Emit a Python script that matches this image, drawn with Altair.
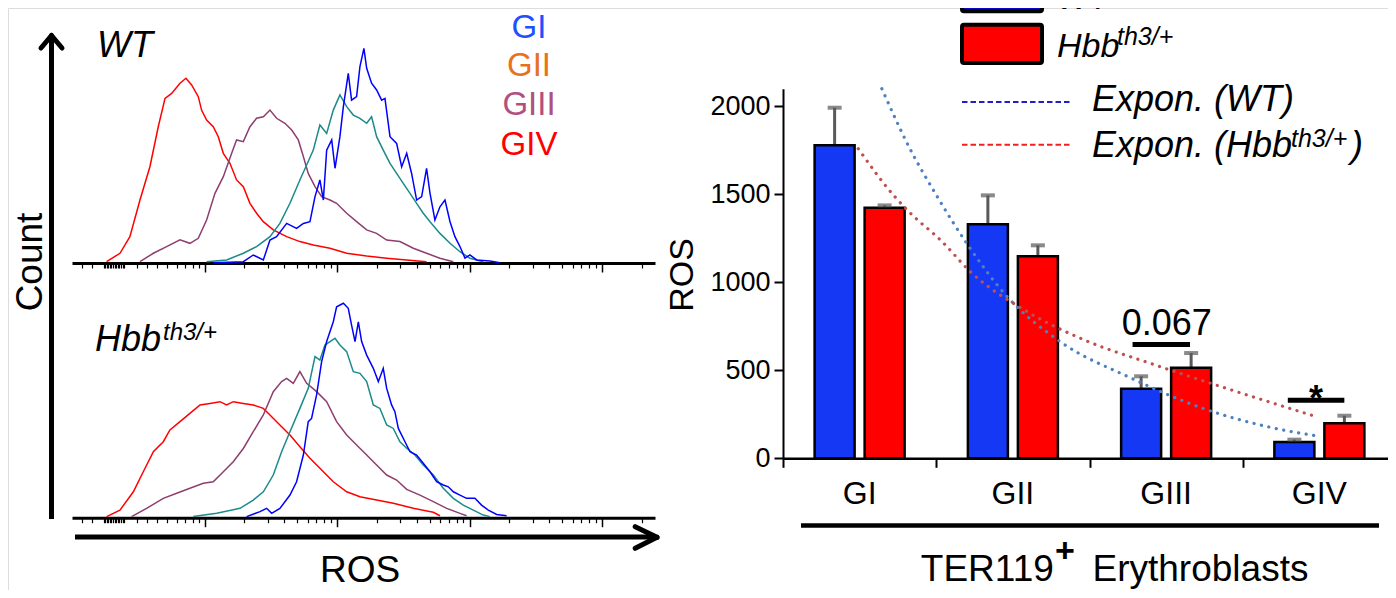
import math
import altair as alt
import pandas as pd

# ---------------- data: flow histograms (x = log10 ROS, y = % of panel height) -------------
WT_GIV_X = [1.261, 1.362, 1.437, 1.513, 1.588, 1.651, 1.702, 1.752, 1.815, 1.860, 1.903, 1.953, 1.978,
            2.016, 2.066, 2.104, 2.142, 2.192, 2.242, 2.293, 2.343, 2.393, 2.444, 2.519, 2.620, 2.720,
            2.821, 2.947, 3.073, 3.224, 3.375, 3.526, 3.676]
WT_GIV_Y = [0.6, 4.5, 12.2, 29.1, 44.5, 63.0, 76.1, 78.4, 83.1, 85.4, 82.3, 76.9, 70.7, 66.1, 63.0, 58.4,
            50.7, 46.1, 38.4, 35.3, 27.6, 23.0, 19.1, 15.3, 12.2, 9.9, 8.3, 6.8, 4.5, 3.2, 2.2, 1.4, 0.6]
WT_GIII_X = [1.513, 1.614, 1.714, 1.815, 1.890, 1.953, 2.016, 2.079, 2.142, 2.205, 2.242, 2.293, 2.343,
             2.393, 2.444, 2.494, 2.544, 2.607, 2.658, 2.708, 2.746, 2.783, 2.834, 2.884, 2.947, 2.997,
             3.073, 3.148, 3.224, 3.299, 3.375, 3.475, 3.576, 3.676, 3.777, 3.878]
WT_GIII_Y = [0.6, 4.5, 7.6, 10.7, 9.1, 11.4, 19.9, 32.2, 39.9, 50.7, 56.9, 56.1, 63.0, 66.9, 67.6, 70.7,
             66.9, 64.6, 61.5, 56.9, 49.2, 41.4, 35.3, 30.7, 29.1, 27.6, 23.0, 19.1, 15.3, 13.7, 10.6,
             9.9, 6.8, 4.5, 2.2, 0.6]
WT_GII_X = [2.016, 2.167, 2.293, 2.393, 2.494, 2.569, 2.645, 2.720, 2.771, 2.821, 2.871, 2.922, 2.972,
            3.022, 3.073, 3.123, 3.173, 3.224, 3.261, 3.299, 3.349, 3.400, 3.450, 3.500, 3.551, 3.601,
            3.651, 3.702, 3.777, 3.853, 3.928, 4.003, 4.104]
WT_GII_Y = [0.6, 1.4, 4.5, 7.6, 12.2, 18.3, 27.6, 38.4, 45.3, 52.2, 63.8, 59.9, 70.7, 77.7, 72.3, 68.4,
            66.9, 64.6, 67.6, 58.4, 52.2, 46.1, 41.4, 36.8, 32.2, 27.6, 23.0, 19.1, 13.7, 9.1, 5.2, 2.2, 0.6]
WT_GI_X = [2.066, 2.293, 2.368, 2.444, 2.494, 2.544, 2.620, 2.695, 2.746, 2.796, 2.834, 2.871, 2.897,
           2.922, 2.960, 2.985, 3.022, 3.048, 3.085, 3.110, 3.148, 3.173, 3.203, 3.224, 3.261, 3.299,
           3.337, 3.362, 3.400, 3.450, 3.488, 3.526, 3.563, 3.601, 3.639, 3.676, 3.702, 3.739, 3.777,
           3.815, 3.853, 3.890, 3.928, 3.966, 4.003, 4.054, 4.154, 4.230]
WT_GI_Y = [0.15, 0.6, 3.7, 1.4, 10.6, 12.2, 18.3, 16.0, 18.3, 19.1, 30.7, 38.4, 29.1, 52.2, 56.9, 43.8,
           58.4, 72.3, 87.7, 75.3, 76.9, 90.8, 99.2, 90.0, 83.1, 80.0, 75.3, 76.1, 58.4, 55.3, 44.5, 50.7,
           41.4, 29.1, 30.7, 43.8, 32.2, 19.9, 26.0, 29.1, 19.1, 12.2, 7.6, 2.2, 3.7, 1.4, 0.9, 0.15]

HBB_GIV_X = [1.261, 1.362, 1.463, 1.538, 1.614, 1.689, 1.739, 1.815, 1.890, 1.966, 2.041, 2.117, 2.167,
             2.217, 2.293, 2.368, 2.444, 2.494, 2.569, 2.645, 2.720, 2.796, 2.871, 2.972, 3.073, 3.173,
             3.299, 3.425, 3.576, 3.727, 3.777]
HBB_GIV_Y = [0.5, 3.5, 11.9, 21.1, 30.3, 34.9, 40.3, 44.1, 47.9, 51.8, 52.5, 53.3, 51.8, 53.3, 52.5, 51.8,
             50.2, 47.2, 42.6, 38.0, 32.6, 27.3, 22.7, 16.5, 11.9, 9.6, 8.1, 6.6, 4.3, 2.5, 0.9]
HBB_GIII_X = [1.450, 1.563, 1.689, 1.790, 1.890, 1.991, 2.066, 2.142, 2.217, 2.293, 2.368, 2.444, 2.519,
              2.582, 2.620, 2.670, 2.720, 2.771, 2.846, 2.922, 2.997, 3.073, 3.148, 3.224, 3.299, 3.375,
              3.450, 3.526, 3.626, 3.727, 3.828, 3.928, 3.978]
HBB_GIII_Y = [0.5, 4.3, 8.9, 11.2, 13.5, 15.8, 16.5, 21.1, 25.7, 31.8, 39.5, 47.2, 57.9, 62.5, 64.0, 61.7,
              67.1, 61.7, 57.9, 53.3, 44.1, 38.0, 33.4, 28.8, 24.2, 19.6, 17.3, 13.0, 10.4, 7.4, 4.3, 2.0, 0.9]
HBB_GII_X = [1.915, 2.092, 2.268, 2.368, 2.444, 2.519, 2.582, 2.645, 2.720, 2.783, 2.834, 2.871, 2.909,
             2.947, 2.985, 3.022, 3.073, 3.123, 3.173, 3.224, 3.274, 3.324, 3.375, 3.425, 3.475, 3.526,
             3.588, 3.651, 3.727, 3.802, 3.878, 3.953, 4.029, 4.104, 4.154]
HBB_GII_Y = [0.5, 2.0, 4.3, 8.1, 11.9, 19.6, 30.3, 39.5, 50.2, 59.4, 74.0, 72.4, 79.3, 80.9, 82.4, 79.3,
             76.3, 67.1, 66.3, 62.5, 51.8, 50.2, 42.6, 41.0, 34.9, 31.9, 28.8, 24.2, 19.6, 13.5, 8.9, 5.8,
             3.5, 1.2, 0.5]
HBB_GI_X = [2.318, 2.419, 2.469, 2.507, 2.569, 2.645, 2.695, 2.746, 2.783, 2.808, 2.846, 2.884, 2.922,
            2.972, 2.997, 3.048, 3.085, 3.110, 3.136, 3.161, 3.186, 3.224, 3.274, 3.312, 3.349, 3.375,
            3.412, 3.437, 3.463, 3.513, 3.551, 3.601, 3.651, 3.702, 3.752, 3.802, 3.840, 3.878, 3.928,
            3.978, 4.041, 4.091, 4.142, 4.205, 4.280]
HBB_GI_Y = [0.5, 2.8, 4.3, 2.0, 4.3, 10.4, 16.5, 28.8, 44.1, 45.6, 56.4, 71.7, 80.9, 90.0, 96.9, 98.5,
            96.2, 88.5, 80.9, 90.0, 80.9, 74.7, 68.6, 62.5, 68.6, 59.4, 51.8, 48.7, 41.0, 34.9, 30.3, 28.8,
            25.0, 21.1, 16.5, 15.0, 14.2, 11.9, 10.4, 8.9, 8.9, 5.8, 3.5, 1.5, 0.9]

# ---------------- data: bar chart ----------------
CATS = ["GI", "GII", "GIII", "GIV"]
GROUPS = ["WT", "Hbb"]
WT_ROS = [1778, 1330, 395, 93]
WT_UPPER = [1992, 1494, 466, 106]
HBB_ROS = [1424, 1148, 515, 199]
HBB_UPPER = [1437, 1210, 598, 242]

# exponential trend lines (x in category units, GI centre = 0.5)
TREND_WT_X = [0.645, 0.822, 1.007, 1.206, 1.452, 1.805, 2.266, 2.726, 3.186, 3.478]
TREND_WT_Y = [2100, 1770, 1486, 1212, 929, 665, 458, 288, 175, 128]
TREND_HBB_X = [0.491, 0.730, 0.823, 1.038, 1.222, 1.590, 1.959, 2.419, 2.880, 3.463]
TREND_HBB_Y = [1759, 1486, 1400, 1231, 1061, 835, 675, 533, 401, 241]

SIG_X1 = [2.281, 3.294]
SIG_X2 = [2.656, 3.663]
SIG_Y = [647, 330]
SIG_TEXT = ["0.067", "*"]
SIG_TEXT_X = [2.504, 3.478]
SIG_TEXT_Y = [703, 270]

# ---------------- layout (pixels, chart coordinates) ----------------
FONT = "Liberation Sans"
W, H = 1380, 582
HX = [64, 647]
TOP_Y = [255, 38.7]
BOT_Y = [509.7, 292]
BAR_X = [775, 1388]
BAR_Y = [450.3, 80.7]

MAJOR = [2, 3, 4, 5]
LEFT_TICKS = [1.073, 1.148] + [round(1.238 + 0.012 * i, 3) for i in range(14)] + \
             [1.492, 1.567, 1.642, 1.717, 1.792, 1.851, 1.912, 1.956]
MINOR = LEFT_TICKS + [round(k + math.log10(m), 3) for k in (2, 3, 4) for m in range(2, 10)] + [5.301]
Y_TICKS = [12.5 * i for i in range(1, 9)]

one = pd.DataFrame({"a": [0]})


def rule(x1, y1, x2, y2, width=5, color="black", dash=None, cap="round"):
    kw = dict(color=color, strokeWidth=width, strokeCap=cap)
    if dash:
        kw["strokeDash"] = dash
    return alt.Chart(one).mark_rule(**kw).encode(
        x=alt.value(x1), y=alt.value(y1), x2=alt.value(x2), y2=alt.value(y2))


def text(txt, x, y, size, align="left", color="black", style="normal", weight="normal", angle=0,
         baseline="alphabetic"):
    kw = dict(text=txt, font=FONT, fontSize=size, align=align, baseline=baseline, color=color,
              fontStyle=style, fontWeight=weight)
    if angle:
        kw["angle"] = angle
    return alt.Chart(one).mark_text(**kw).encode(x=alt.value(x), y=alt.value(y))


def box(x1, y1, x2, y2, fill):
    return alt.Chart(one).mark_rect(fill=fill, stroke="black", strokeWidth=4, cornerRadius=2).encode(
        x=alt.value(x1), y=alt.value(y1), x2=alt.value(x2), y2=alt.value(y2))


def hist_panel(curves, yrange):
    xs = alt.Scale(domain=[1.0, 5.4], range=HX, nice=False, zero=False)
    ys = alt.Scale(domain=[0, 100], range=yrange, nice=False, zero=False)
    off = yrange[0] - H
    xaxis = alt.Axis(orient="bottom", offset=off, values=MAJOR, tickSize=9, tickWidth=1.5,
                     tickColor="black", domainColor="black", domainWidth=3, labels=False,
                     title=None, grid=False)
    yaxis = alt.Axis(orient="left", offset=-HX[0], values=Y_TICKS, tickSize=5, tickWidth=1.2,
                     tickColor="black", domainColor="black", domainWidth=2, labels=False,
                     title=None, grid=False)
    minor_axis = alt.Axis(orient="bottom", offset=off, values=MINOR, tickSize=5, tickWidth=1.2,
                          tickColor="black", domain=False, labels=False, title=None, grid=False)
    lines = []
    for xv, yv, col in curves:
        df = pd.DataFrame({"x": xv, "y": yv})
        lines.append(alt.Chart(df).mark_line(color=col, strokeWidth=1.5).encode(
            x=alt.X("x:Q", scale=xs, axis=xaxis), y=alt.Y("y:Q", scale=ys, axis=yaxis)))
    df0 = pd.DataFrame({"x": curves[0][0], "y": curves[0][1]})
    dummy = alt.Chart(df0).mark_line(opacity=0).encode(
        x=alt.X("x:Q", scale=xs, axis=minor_axis), y=alt.Y("y:Q", scale=ys, axis=None))
    return alt.layer(alt.layer(*lines), dummy).resolve_axis(x="independent")


C_GI, C_GII, C_GIII, C_GIV = "#0000ff", "#1b8a8a", "#8e3e6e", "#ff0000"

top = hist_panel([(WT_GIV_X, WT_GIV_Y, C_GIV), (WT_GIII_X, WT_GIII_Y, C_GIII),
                  (WT_GII_X, WT_GII_Y, C_GII), (WT_GI_X, WT_GI_Y, C_GI)], TOP_Y)
bottom = hist_panel([(HBB_GIV_X, HBB_GIV_Y, C_GIV), (HBB_GIII_X, HBB_GIII_Y, C_GIII),
                     (HBB_GII_X, HBB_GII_Y, C_GII), (HBB_GI_X, HBB_GI_Y, C_GI)], BOT_Y)

# ---------------- bar chart ----------------
bars_df = pd.DataFrame({
    "cat": CATS * 2,
    "grp": ["WT"] * 4 + ["Hbb"] * 4,
    "val": WT_ROS + HBB_ROS,
    "hi": WT_UPPER + HBB_UPPER,
})
band = alt.Scale(domain=CATS, range=BAR_X, paddingInner=0, paddingOuter=0)
ybar = alt.Scale(domain=[0, 2100], range=BAR_Y, nice=False, zero=False)
offs = alt.Scale(domain=GROUPS, paddingInner=0.2, paddingOuter=0.6325)
bx_axis = alt.Axis(orient="bottom", offset=BAR_Y[0] - H, ticks=False, tickSize=0, domain=False,
                   labelFontSize=32, labelPadding=20, labelColor="black", labelFont=FONT,
                   labelAngle=0, title=None, grid=False)
by_axis = alt.Axis(orient="left", offset=-BAR_X[0], values=[0, 500, 1000, 1500, 2000], tickSize=9,
                   tickWidth=2, tickColor="black", domainColor="black", domainWidth=2,
                   labelFontSize=27, labelPadding=4, labelFont=FONT, labelColor="black",
                   format="d", title=None, grid=False)
X = alt.X("cat:N", scale=band, axis=bx_axis, sort=CATS)
XO = alt.XOffset("grp:N", scale=offs, sort=GROUPS)
err = alt.Chart(bars_df).mark_rule(color="#595959", strokeWidth=3).encode(
    x=X, xOffset=XO, y=alt.Y("val:Q", scale=ybar, axis=by_axis), y2="hi:Q")
bars = alt.Chart(bars_df).mark_bar(stroke="black", strokeWidth=2.5).encode(
    x=X, xOffset=XO, y=alt.Y("val:Q", scale=ybar, axis=by_axis),
    color=alt.Color("grp:N", scale=alt.Scale(domain=GROUPS, range=["#1538f5", "#ff0000"]), legend=None))
caps = alt.Chart(bars_df).mark_tick(color="#595959", thickness=4, size=14).encode(
    x=X, xOffset=XO, y=alt.Y("hi:Q", scale=ybar, axis=by_axis))
bar_block = alt.layer(err, bars, caps)

tx = alt.Scale(domain=[0, 4], range=BAR_X, nice=False, zero=False)
ty = alt.Scale(domain=[0, 2100], range=BAR_Y, nice=False, zero=False)
tick_axis = alt.Axis(orient="bottom", offset=BAR_Y[0] - H, values=[0, 1, 2, 3, 4], tickSize=9,
                     tickWidth=2, tickColor="black", domainColor="black", domainWidth=2.5,
                     labels=False, title=None, grid=False)
trend_wt = alt.Chart(pd.DataFrame({"u": TREND_WT_X, "v": TREND_WT_Y})).mark_line(
    color="#4f81bd", strokeWidth=3.2, strokeDash=[0.1, 7.5], strokeCap="round",
    interpolate="monotone").encode(
    x=alt.X("u:Q", scale=tx, axis=tick_axis), y=alt.Y("v:Q", scale=ty, axis=None))
trend_hbb = alt.Chart(pd.DataFrame({"u": TREND_HBB_X, "v": TREND_HBB_Y})).mark_line(
    color="#c0504d", strokeWidth=3.2, strokeDash=[0.1, 7.5], strokeCap="round",
    interpolate="monotone").encode(
    x=alt.X("u:Q", scale=tx, axis=tick_axis), y=alt.Y("v:Q", scale=ty, axis=None))
sig = alt.Chart(pd.DataFrame({"x1": SIG_X1, "x2": SIG_X2, "y": SIG_Y})).mark_rule(
    color="black", strokeWidth=5).encode(
    x=alt.X("x1:Q", scale=tx, axis=tick_axis), x2="x2:Q", y=alt.Y("y:Q", scale=ty, axis=None))
sig_txt = alt.Chart(pd.DataFrame({"x": SIG_TEXT_X[:1], "y": SIG_TEXT_Y[:1], "t": SIG_TEXT[:1]})).mark_text(
    font=FONT, fontSize=36, align="center", baseline="alphabetic", color="black").encode(
    x=alt.X("x:Q", scale=tx, axis=tick_axis), y=alt.Y("y:Q", scale=ty, axis=None), text="t:N")
star_txt = alt.Chart(pd.DataFrame({"x": SIG_TEXT_X[1:], "y": SIG_TEXT_Y[1:], "t": SIG_TEXT[1:]})).mark_text(
    font=FONT, fontSize=36, fontWeight="bold", align="center", baseline="alphabetic", color="black").encode(
    x=alt.X("x:Q", scale=tx, axis=tick_axis), y=alt.Y("y:Q", scale=ty, axis=None), text="t:N")
trend_block = alt.layer(trend_wt, trend_hbb, sig, sig_txt, star_txt)

# ---------------- decorations ----------------
deco = [
    # axis arrows (left panel)
    rule(43.5, 511, 43.5, 29, width=5, cap="butt"),
    rule(43.5, 27.5, 33, 40, width=5),
    rule(43.5, 27.5, 54, 40, width=5),
    rule(67, 529, 647, 529, width=5, cap="butt"),
    rule(649, 529.3, 627.2, 518.7, width=5),
    rule(649, 529.3, 627.2, 540.3, width=5),
    text("Count", 34, 254, 37, align="center", angle=270),
    text("ROS", 352, 574, 37, align="center"),
    text("WT", 89, 49, 36, style="italic"),
    text("Hbb", 87, 343, 36, style="italic"),
    text("th3/+", 155, 332, 24, style="italic"),
    text("GI", 521, 30, 33, align="center", color="#1e50ff"),
    text("GII", 521, 67.5, 33, align="center", color="#e8721c"),
    text("GIII", 521, 107, 33, align="center", color="#b0507f"),
    text("GIV", 521, 147, 33, align="center", color="#ff0000"),
    # bar chart texts
    text("ROS", 685, 267, 34, align="center", angle=270),
    rule(793, 517.5, 1371, 517.5, width=4.5, cap="butt"),
    text("TER119", 912.8, 573, 37),
    text("+", 1047, 554, 34, weight="bold"),
    text("Erythroblasts", 1084.5, 573, 37),
    # legend
    box(954, -30, 1034, 3.3, "#0a0ac8"),
    text("WT", 1049, 1, 34, style="italic"),
    box(954, 16.7, 1034, 55, "#ff0000"),
    text("Hbb", 1049, 49.3, 34, style="italic"),
    text("th3/+", 1109, 37, 25, style="italic"),
    rule(954, 94, 1064, 94, width=2, color="#2020c8", dash=[5.5, 3], cap="butt"),
    text("Expon. (WT)", 1084, 102.7, 36, style="italic"),
    rule(954, 136.7, 1064, 136.7, width=2, color="#f02020", dash=[5.5, 3], cap="butt"),
    text("Expon. (Hbb", 1084, 148.7, 36, style="italic"),
    text("th3/+", 1283, 138.7, 25, style="italic"),
    text(")", 1343, 148.7, 36, style="italic"),
]

chart = alt.layer(top, bottom, bar_block, trend_block, *deco).resolve_scale(
    x="independent", y="independent"
).properties(
    width=W, height=H, padding=0, autosize=alt.AutoSizeParams(type="none")
).configure_view(stroke=None).configure(font=FONT)

chart.save("out.html", embed_options={"renderer": "svg", "actions": False})
